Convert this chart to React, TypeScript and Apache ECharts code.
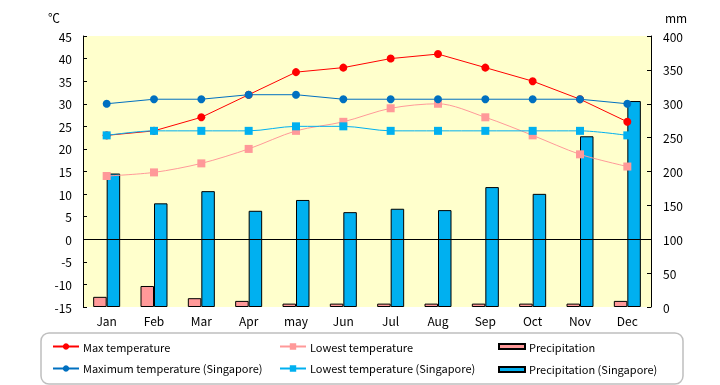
import React, { useEffect, useRef } from "react";
import * as echarts from "echarts";

const months = ["Jan", "Feb", "Mar", "Apr", "may", "Jun", "Jul", "Aug", "Sep", "Oct", "Nov", "Dec"];
const maxTemp = [23, 24, 27, 32, 37, 38, 40, 41, 38, 35, 31, 26];
const lowTemp = [14, 14.8, 16.8, 20, 24, 26, 29, 30, 27, 23, 18.8, 16.1];
const maxTempSg = [30, 31, 31, 32, 32, 31, 31, 31, 31, 31, 31, 30];
const lowTempSg = [23, 24, 24, 24, 25, 25, 24, 24, 24, 24, 24, 23];
const precip = [15, 31, 13, 9, 5, 5, 5, 5, 5, 5, 5, 9];
const precipSg = [197, 153, 171, 142, 158, 140, 145, 143, 177, 167, 252, 304];
const leftTicks = { min: -15, max: 45, interval: 5 };
const rightTicks = { min: 0, max: 400, interval: 50 };

const FONT = "'Noto Sans CJK JP', 'Noto Sans', sans-serif";

export default function App() {
  const ref = useRef<HTMLDivElement>(null);
  useEffect(() => {
    if (!ref.current) return;
    const chart = echarts.init(ref.current, undefined, { renderer: "svg" });
    const lineSeries = (name: string, data: number[], color: string, symbol: string, smooth: boolean | number) => ({
      name,
      type: "line",
      data,
      yAxisIndex: 0,
      symbol,
      symbolSize: 8,
      smooth,
      lineStyle: { color, width: 1 },
      itemStyle: { color },
      z: 3,
    });
    const barSeries = (name: string, data: number[], color: string) => ({
      name,
      type: "bar",
      data,
      yAxisIndex: 1,
      barWidth: 13.5,
      barGap: "0%",
      itemStyle: { color, borderColor: "#000", borderWidth: 1 },
      z: 2,
    });
    const legendBase = {
      orient: "vertical",
      itemWidth: 26,
      itemHeight: 8,
      itemGap: 11,
      textStyle: { fontFamily: FONT, fontSize: 11, color: "#000", padding: [0, 0, 0, -1] },
      padding: 0,
    };
    chart.setOption({
      animation: false,
      textStyle: { fontFamily: FONT },
      grid: {
        left: 83,
        right: 69,
        top: 36,
        bottom: 78,
        show: true,
        backgroundColor: "#FFFFCC",
        borderWidth: 0,
      },
      xAxis: {
        type: "category",
        data: months,
        axisLine: { show: false },
        axisTick: { show: false },
        axisLabel: { color: "#000", fontSize: 12, margin: 7, fontFamily: FONT },
      },
      yAxis: [
        {
          type: "value",
          min: leftTicks.min,
          max: leftTicks.max,
          interval: leftTicks.interval,
          axisLine: { show: true, lineStyle: { color: "#000" } },
          axisTick: { show: true, inside: true, length: 4, lineStyle: { color: "#000" } },
          axisLabel: { color: "#000", fontSize: 12, margin: 11, fontFamily: FONT },
          splitLine: { show: false },
        },
        {
          type: "value",
          position: "right",
          min: rightTicks.min,
          max: rightTicks.max,
          interval: rightTicks.interval,
          axisLine: { show: true, lineStyle: { color: "#000" } },
          axisTick: { show: true, inside: true, length: 4, lineStyle: { color: "#000" } },
          axisLabel: { color: "#000", fontSize: 12, margin: 12, fontFamily: FONT },
          splitLine: { show: false },
        },
      ],
      legend: [
        { ...legendBase, left: 52, top: 341, data: ["Max temperature", "Maximum temperature (Singapore)"] },
        { ...legendBase, left: 279, top: 341, data: ["Lowest temperature", "Lowest temperature (Singapore)"] },
        {
          ...legendBase,
          left: 498,
          top: 341,
          itemHeight: 5,
          itemGap: 12,
          data: [
            { name: "Precipitation", icon: "rect" },
            { name: "Precipitation (Singapore)", icon: "rect" },
          ],
        },
      ],
      graphic: [
        {
          type: "rect",
          shape: { x: 41, y: 333, width: 642, height: 51, r: 8 },
          style: { fill: "#fff", stroke: "#BFBFBF", lineWidth: 1.5 },
          z: -1,
        },
        {
          type: "text",
          x: 48,
          y: 11,
          style: { text: "℃", fontSize: 12, fontFamily: FONT, fill: "#000" },
        },
        {
          type: "text",
          x: 665,
          y: 11,
          style: { text: "mm", fontSize: 12, fontFamily: FONT, fill: "#000" },
        },
      ],
      series: [
        {
          ...barSeries("Precipitation", precip, "#FF9999"),
        },
        {
          ...barSeries("Precipitation (Singapore)", precipSg, "#00B0F0"),
          markLine: {
            silent: true,
            symbol: "none",
            label: { show: false },
            lineStyle: { color: "#000", width: 1, type: "solid" },
            data: [{ yAxis: 100 }],
          },
        },
        lineSeries("Max temperature", maxTemp, "#FF0000", "circle", false),
        lineSeries("Lowest temperature", lowTemp, "#FF9999", "rect", 0.3),
        lineSeries("Maximum temperature (Singapore)", maxTempSg, "#0070C0", "circle", false),
        lineSeries("Lowest temperature (Singapore)", lowTempSg, "#00B0F0", "rect", 0.3),
      ],
    });
    return () => chart.dispose();
  }, []);
  return <div ref={ref} style={{ position: "fixed", left: 0, top: 0, width: 720, height: 385 }} />;
}
